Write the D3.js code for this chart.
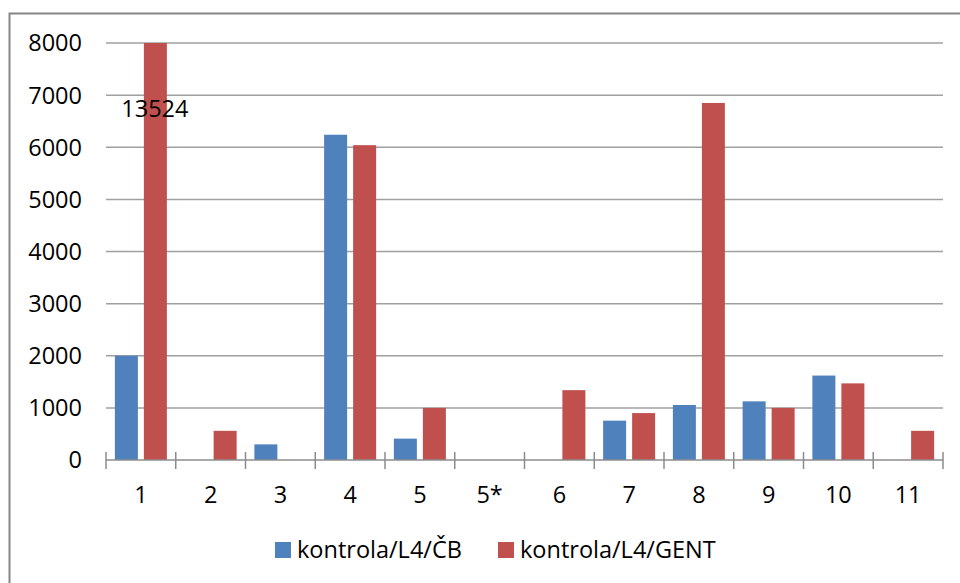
<!DOCTYPE html>
<html><head><meta charset="utf-8">
<script src="https://cdn.jsdelivr.net/npm/d3@7/dist/d3.min.js"></script>
<style>
body{margin:0;background:#fff;}
svg{display:block;font-family:"Open Sans",sans-serif;}
</style></head>
<body><svg id="c" width="960" height="583"></svg>
<script>
const categories = ["1","2","3","4","5","5*","6","7","8","9","10","11"];
const seriesNames = ["kontrola/L4/ČB","kontrola/L4/GENT"];
const seriesCB   = [2000, 0, 300, 6240, 410, 0, 0, 755, 1055, 1125, 1620, 0];
const seriesGENT = [13524, 560, 0, 6040, 1000, 0, 1340, 900, 6850, 1000, 1470, 560];
const yTicks = [0,1000,2000,3000,4000,5000,6000,7000,8000];
const colors = ["#4f81bd","#c0504d"];
const labelCategory = "1", labelText = "13524";

const svg = d3.select("#c");
const L = 106, R = 943, T = 43, B = 460;
const fs = 23.5;

// outer frame
svg.append("rect").attr("x",9.5).attr("y",13.5).attr("width",980).attr("height",600)
  .attr("fill","none").attr("stroke","#868686").attr("stroke-width",2);

const x0 = d3.scaleBand().domain(categories).range([L,R]).paddingInner(0).paddingOuter(0);
const x1 = d3.scaleBand().domain(seriesNames).range([0,x0.bandwidth()]).paddingInner(0.207).paddingOuter(0.306);
const y = d3.scaleLinear().domain([0,8000]).range([B,T]).clamp(true);

// gridlines
svg.append("g").selectAll("line").data(yTicks.filter(d=>d>0)).join("line")
  .attr("x1",L).attr("x2",R).attr("y1",d=>y(d)).attr("y2",d=>y(d))
  .attr("stroke","#a0a0a0").attr("stroke-width",1.5);

// y labels
svg.append("g").selectAll("text").data(yTicks).join("text")
  .attr("x",82).attr("y",d=>y(d)).attr("dy","0.36em").attr("text-anchor","end")
  .attr("font-size",fs).attr("fill","#000").text(d=>d);

// bars
const rows = categories.map((c,i)=>({c, vals:[seriesCB[i], seriesGENT[i]]}));
const g = svg.append("g");
rows.forEach(r=>{
  r.vals.forEach((v,j)=>{
    if(v<=0) return;
    g.append("rect").attr("x",x0(r.c)+x1(seriesNames[j])).attr("y",y(v))
      .attr("width",x1.bandwidth()).attr("height",B-y(v))
      .attr("fill",colors[j]);
  });
});

// x axis
const ax = svg.append("g");
ax.append("line").attr("x1",L).attr("x2",R).attr("y1",B).attr("y2",B)
  .attr("stroke","#8c8c8c").attr("stroke-width",1.5);
const tickXs = categories.map(c=>x0(c)).concat([R]);
ax.selectAll("line.t").data(tickXs).join("line").attr("class","t")
  .attr("x1",d=>d).attr("x2",d=>d).attr("y1",B-8).attr("y2",B+9)
  .attr("stroke","#8c8c8c").attr("stroke-width",1.5);
ax.selectAll("text").data(categories).join("text")
  .attr("x",d=>x0(d)+x0.bandwidth()/2).attr("y",503).attr("text-anchor","middle")
  .attr("font-size",fs).attr("fill","#000").text(d=>d);

// data label
svg.append("text").attr("x",x0(labelCategory)+x0.bandwidth()/2+14).attr("y",117)
  .attr("text-anchor","middle").attr("font-size",fs).attr("fill","#000").text(labelText);

// legend
const leg = [{x:275, tx:297},{x:498, tx:520}];
seriesNames.forEach((n,i)=>{
  svg.append("rect").attr("x",leg[i].x).attr("y",542).attr("width",16).attr("height",16).attr("fill",colors[i]);
  svg.append("text").attr("x",leg[i].tx).attr("y",558).attr("font-size",fs).attr("fill","#000").text(n);
});
</script></body></html>
